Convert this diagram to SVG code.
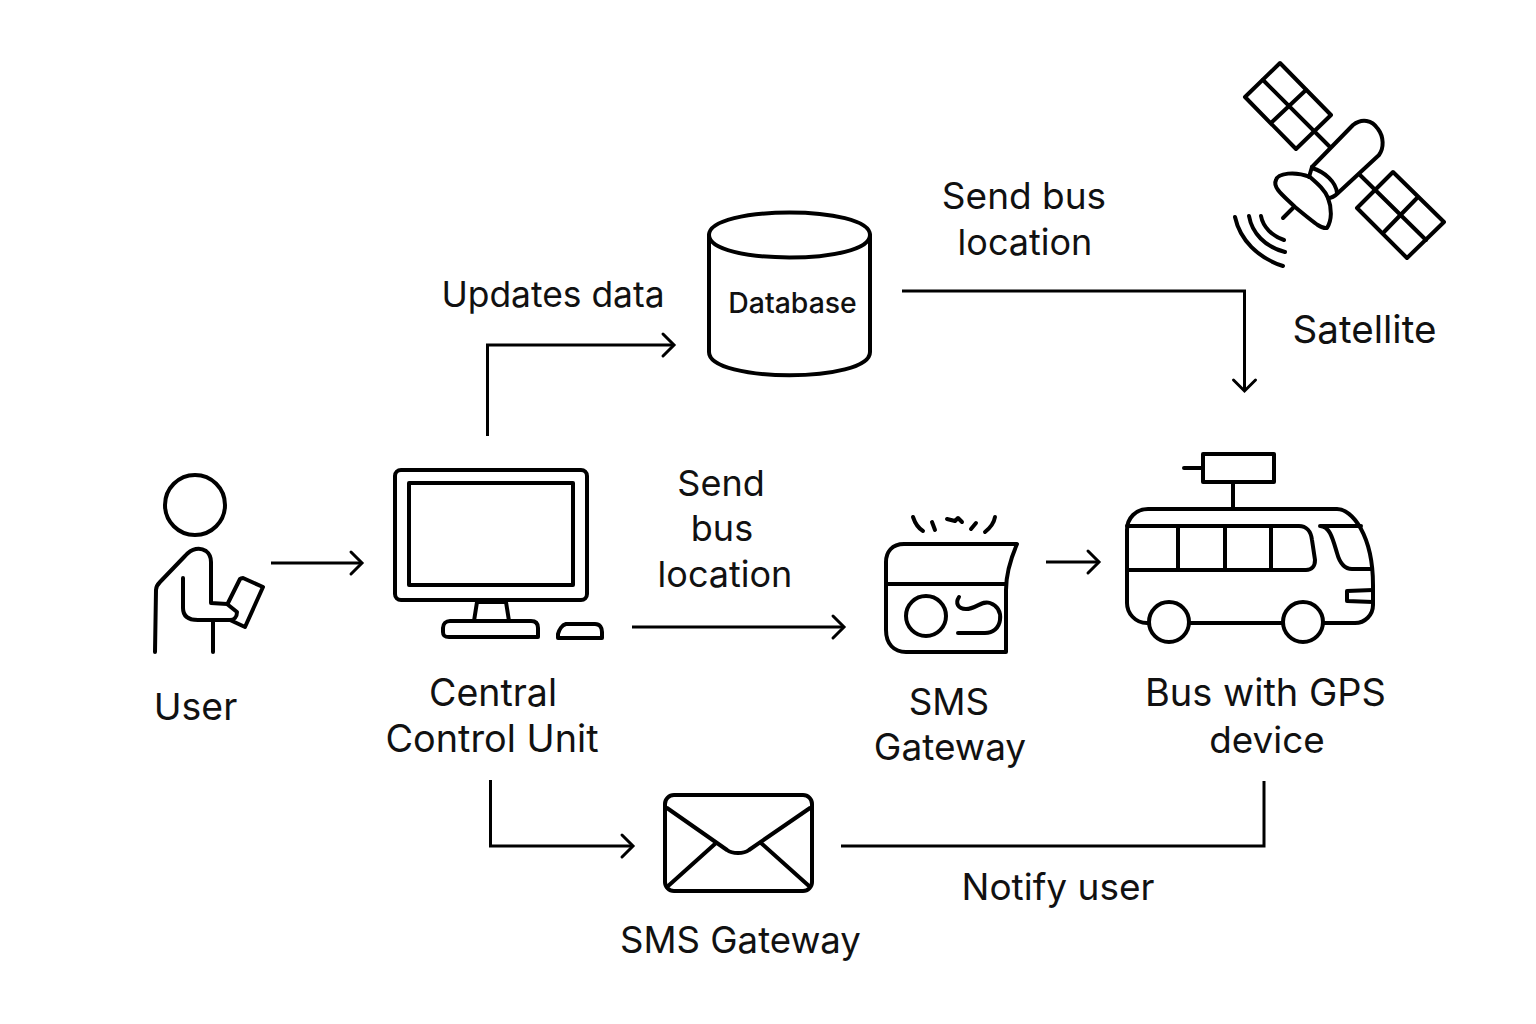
<svg xmlns="http://www.w3.org/2000/svg" width="1536" height="1024" viewBox="0 0 1536 1024">
<style>
text{font-family:Inter,"Liberation Sans",sans-serif;font-size:36px;fill:#111;text-anchor:middle}
.s{fill:none;stroke:#000;stroke-width:4;stroke-linecap:round;stroke-linejoin:round}
.c{fill:none;stroke:#000;stroke-width:3;stroke-linejoin:miter}
.h{fill:none;stroke:#000;stroke-width:3;stroke-linecap:round;stroke-linejoin:miter}
</style>
<defs>
<path id="ah" d="M-11 -11L0 0L-11 11" class="h"/>
</defs>
<rect width="1536" height="1024" fill="#fff"/>
<g id="connectors">
<path class="c" d="M271 563H361"/><use href="#ah" x="362" y="563"/>
<path class="c" d="M487.500 436V345H673"/><use href="#ah" x="674" y="345"/>
<path class="c" d="M902 291H1244.500V390"/><use href="#ah" transform="translate(1244.500 391) rotate(90)"/>
<path class="c" d="M632 627H843"/><use href="#ah" x="844" y="627"/>
<path class="c" d="M1046 562H1098"/><use href="#ah" x="1099" y="562"/>
<path class="c" d="M490.500 780V846H632"/><use href="#ah" x="633" y="846"/>
<path class="c" d="M841 846H1264V781"/>
</g>
<g id="satellite">
<path class="s" d="M1280 63L1331 115L1296 149L1245 97Z"/>
<path class="s" d="M1263 80L1330 147M1306 90L1272 122"/>
<path class="s" d="M1393 172L1444 222L1407 258L1357 208Z"/>
<path class="s" d="M1360 175L1426 240M1417 198L1384 232"/>
<path class="s" d="M1312 167L1353 125C1362 118 1372 120 1378 129C1384 137 1384 148 1379 155L1338 193C1334 197 1330 198 1328 198"/>
<path class="s" d="M1312 167L1309 177M1312 168C1325 172 1336 182 1337 193"/>
<path class="s" d="M1276 180C1278 173 1295 171 1310 177C1318 184 1325 190 1328 198C1332 208 1332 220 1327 228C1322 229 1318 226 1295 207C1285 197 1272 188 1276 180Z"/>
<path class="s" d="M1293 208L1283 218"/>
<path class="s" d="M1235 217C1240 240 1258 258 1283 266M1249 216C1252 233 1265 247 1285 252M1261 216C1263 227 1272 236 1284 240"/>
<text x="1364.500" y="343" style="font-size:38.600px">Satellite</text>
</g>
<g id="database">
<path class="s" d="M709 235C709 205 870 205 870 235C870 265 709 265 709 235Z"/>
<path class="s" d="M709 235V352C709 383 870 383 870 352V235"/>
<text x="792.500" y="313" style="font-size:28.400px;font-weight:500">Database</text>
</g>
<g id="user">
<circle class="s" cx="195" cy="505" r="30"/>
<path class="s" d="M155 652L156 590C156 586 158 584 160 582L185 556C192 548 200 547 206 551C210 554 211 557 211 562V603L227 604L237 612C237 617 234 620 230 620H198C188 620 183 616 183 608V578"/>
<path class="s" d="M213 620V652"/>
<path class="s" d="M228 603L240 579C241 578 242 578 243 578L263 587L245 627L230 620"/>
<text x="195.500" y="720" style="font-size:37.400px">User</text>
</g>
<g id="central-control-unit">
<rect class="s" x="395" y="470" width="192" height="130" rx="6"/>
<rect class="s" x="409" y="483" width="164" height="102"/>
<path class="s" d="M477 602L474 621M506 602L509 621M477 602H506"/>
<path class="s" d="M450 621H531C536 621 538 624 538 628V637H449C445 637 443 636 443 632V628C443 624 446 621 450 621Z"/>
<path class="s" d="M566 624H595C600 624 602 628 602 632V638H558V634C559 630 562 625 566 624Z"/>
<text x="493" y="706" style="font-size:37.500px">Central</text>
<text x="492" y="752" style="font-size:37.800px">Control Unit</text>
</g>
<g id="sms-gateway-device">
<path class="s" d="M1017 544H904C892 544 886 552 886 562V630C886 644 894 652 906 652H1006V590C1006 572 1011 558 1017 544Z"/>
<path class="s" d="M886 584H1006"/>
<circle class="s" cx="926" cy="616" r="20"/>
<path class="s" d="M959 597C955 603 958 609 966 609C976 609 982 600 990 603C998 606 1001 612 1000 620C999 628 993 633 985 633H958"/>
<path class="s" d="M913 517C915 523 918 528 923 531M932 522L935 530M947 519L955 521L958 518L962 522M971 529L976 523M985 532C990 528 994 523 995 517"/>
<text x="949" y="715" style="font-size:36.800px">SMS</text>
<text x="950" y="760" style="font-size:37px">Gateway</text>
</g>
<g id="bus">
<path class="s" d="M1149 623H1147C1135 623 1127 613 1127 603V530C1127 518 1136 509 1148 509H1337C1352 509 1373 535 1373 585V605C1373 615 1365 623 1355 623H1323M1283 623H1189"/>
<path class="s" d="M1127 526H1299C1306 526 1311 531 1312 540L1315 560C1315 566 1312 570 1306 570H1127"/>
<path class="s" d="M1178 526V570M1225 526V570M1271 526V570"/>
<path class="s" d="M1320 526H1361M1320 526C1330 526 1333 540 1337 553C1340 564 1345 569 1352 569H1372"/>
<path class="s" d="M1373 590L1347 591V601L1373 602"/>
<circle class="s" cx="1169" cy="622" r="20"/>
<circle class="s" cx="1303" cy="622" r="20"/>
<rect class="s" x="1203" y="454" width="71" height="28"/>
<path class="s" d="M1233 482V509M1184 468H1203"/>
<text x="1265.500" y="706" style="font-size:38px">Bus with GPS</text>
<text x="1267" y="753" style="font-size:36.800px">device</text>
</g>
<g id="sms-gateway-envelope">
<rect class="s" x="665" y="795" width="147" height="96" rx="9"/>
<path class="s" d="M667 808L727 850C731 853 735 853 738 853C741 853 745 853 749 850L810 808"/>
<path class="s" d="M667 887L716 843M809 886L761 843"/>
<text x="740.500" y="953" style="font-size:36.600px">SMS Gateway</text>
</g>
<g id="labels">
<text x="553" y="307" style="font-size:35.400px">Updates data</text>
<text x="1024" y="209" style="font-size:37px">Send bus</text>
<text x="1025" y="255">location</text>
<text x="721" y="496">Send</text>
<text x="722" y="541">bus</text>
<text x="725" y="587">location</text>
<text x="1058" y="900" style="font-size:37px">Notify user</text>
</g>
</svg>
